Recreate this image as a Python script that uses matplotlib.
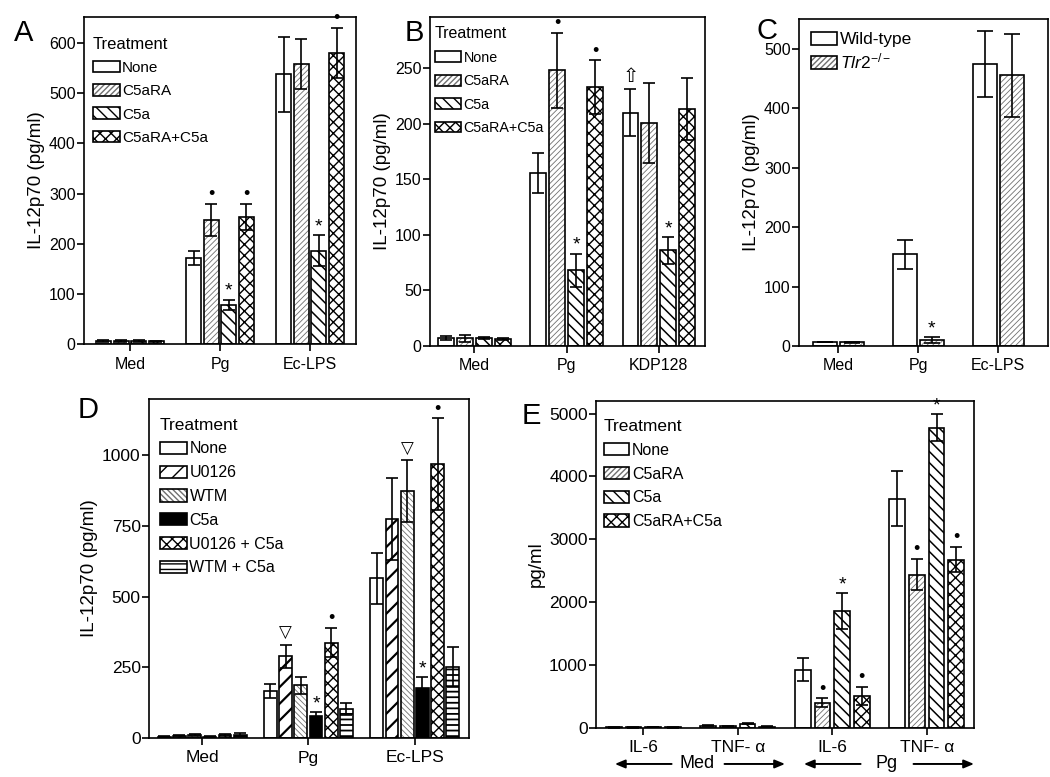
import numpy as np
import matplotlib
matplotlib.use('Agg')
import matplotlib.pyplot as plt
from matplotlib.patches import Patch
from matplotlib.legend_handler import HandlerTuple

plt.rcParams['font.family'] = ['Liberation Sans', 'DejaVu Sans']
plt.rcParams['mathtext.fontset'] = 'custom'
plt.rcParams['mathtext.rm'] = 'Liberation Sans'
plt.rcParams['mathtext.it'] = 'Liberation Sans:italic'

# ---------------- data ----------------
A_groups = ['Med', 'Pg', 'Ec-LPS']
A_labels = ['None', 'C5aRA', 'C5a', 'C5aRA+C5a']
A_none = [6, 171, 538]
A_none_err = [1.5, 14, 75]
A_c5ara = [6, 247, 558]
A_c5ara_err = [2, 32, 50]
A_c5a = [6, 78, 186]
A_c5a_err = [1.5, 10, 31]
A_both = [5, 254, 580]
A_both_err = [1.5, 26, 50]
A_marks = [(1, 1, 'dot'), (3, 1, 'dot'), (2, 1, 'star'), (2, 2, 'star'), (3, 2, 'dot')]

B_groups = ['Med', 'Pg', 'KDP128']
B_labels = ['None', 'C5aRA', 'C5a', 'C5aRA+C5a']
B_none = [7, 156, 210]
B_none_err = [2, 18, 21]
B_c5ara = [7, 248, 201]
B_c5ara_err = [3, 34, 36]
B_c5a = [7, 68, 86]
B_c5a_err = [1, 15, 12]
B_both = [6, 233, 213]
B_both_err = [1, 24, 28]
B_marks = [(1, 1, 'dot'), (3, 1, 'dot'), (2, 1, 'star'), (2, 2, 'star'), (0, 2, 'up')]

C_groups = ['Med', 'Pg', 'Ec-LPS']
C_labels = ['Wild-type', r'$\mathit{Tlr2}^{\mathrm{-/-}}$']
C_wt = [7, 154, 474]
C_wt_err = [0.5, 25, 56]
C_tlr2 = [6, 10, 455]
C_tlr2_err = [1.5, 4.5, 70]
C_marks = [(1, 1, 'star')]

D_groups = ['Med', 'Pg', 'Ec-LPS']
D_labels = ['None', 'U0126', 'WTM', 'C5a', 'U0126 + C5a', 'WTM + C5a']
D_none = [5, 165, 566]
D_none_err = [1, 25, 90]
D_u0126 = [8, 289, 775]
D_u0126_err = [2, 41, 145]
D_wtm = [10, 186, 873]
D_wtm_err = [3, 31, 110]
D_c5a = [5, 77, 177]
D_c5a_err = [1, 15, 39]
D_u0126_c5a = [10, 338, 970]
D_u0126_c5a_err = [3, 52, 162]
D_wtm_c5a = [12, 103, 251]
D_wtm_c5a_err = [5, 21, 70]
D_marks = [(1, 1, 'tri'), (2, 2, 'tri'), (4, 1, 'dot'), (4, 2, 'dot'), (3, 1, 'star'), (3, 2, 'star')]

E_groups = ['IL-6', 'TNF- α', 'IL-6', 'TNF- α']
E_labels = ['None', 'C5aRA', 'C5a', 'C5aRA+C5a']
E_none = [10, 35, 928, 3648]
E_none_err = [3, 8, 178, 440]
E_c5ara = [10, 30, 398, 2439]
E_c5ara_err = [3, 8, 72, 247]
E_c5a = [15, 65, 1861, 4777]
E_c5a_err = [3, 8, 284, 210]
E_both = [10, 20, 509, 2678]
E_both_err = [3, 5, 150, 204]
E_marks = [(1, 2, 'dot'), (3, 2, 'dot'), (2, 2, 'star'), (1, 3, 'dot'), (3, 3, 'dot'), (2, 3, 'star')]
E_cond = ['Med', 'Pg']

# ---------------- styles ----------------
STY = {
    'none':   ('white', None, 'black', 1.0),
    'fine_f': ('white', '//////', '#707070', 0.6),
    'diag_b': ('white', '\\\\\\', 'black', 1.1),
    'cross':  ('white', 'xxx', 'black', 1.0),
    'bold_f': ('white', '//', 'black', 1.6),
    'fine_b': ('white', '\\\\\\\\\\\\', '#707070', 0.6),
    'solid':  ('black', None, 'black', 1.0),
    'horiz':  ('white', '---', 'black', 1.3),
}

W, H = 1050, 777
fig = plt.figure(figsize=(W / 100, H / 100), dpi=100)


def px_axes(l, t, r, b):
    return fig.add_axes([l / W, 1 - b / H, (r - l) / W, (b - t) / H])


def draw_bars(ax, vals_list, errs_list, styles, slot, width, capsize):
    k = len(vals_list)
    handles, xs_all = [], []
    for i, (v, e, s) in enumerate(zip(vals_list, errs_list, styles)):
        x = np.arange(len(v)) + (i - (k - 1) / 2) * slot
        fc, hatch, hc, hlw = STY[s]
        with plt.rc_context({'hatch.linewidth': hlw}):
            b1 = ax.bar(x, v, width, color=fc, edgecolor=hc, linewidth=0,
                        hatch=hatch, zorder=2)
            h1 = Patch(facecolor=fc, edgecolor=hc, linewidth=0, hatch=hatch)
        for p in list(b1) + [h1]:
            if hasattr(p, 'set_hatch_linewidth'):
                p.set_hatch_linewidth(hlw)
        ax.bar(x, v, width, fill=False, edgecolor='black', linewidth=1.2, zorder=3)
        h2 = Patch(fill=False, edgecolor='black', linewidth=1.2)
        ax.errorbar(x, v, yerr=e, fmt='none', ecolor='black', elinewidth=1.2,
                    capsize=capsize, capthick=1.2, zorder=4)
        handles.append((h1, h2))
        xs_all.append(x)
    return handles, xs_all


def add_marks(ax, xs, vals, errs, marks):
    for si, gi, kind in marks:
        x = xs[si][gi]
        y = vals[si][gi] + errs[si][gi]
        if kind == 'dot':
            ax.annotate('•', (x, y), xytext=(0, 0.5), textcoords='offset points',
                        ha='center', va='bottom', fontsize=13, zorder=5)
        elif kind == 'star':
            ax.annotate('*', (x, y), xytext=(0, 0), textcoords='offset points',
                        ha='center', va='bottom', fontsize=14, zorder=5)
        elif kind == 'tri':
            ax.annotate('▽', (x, y), xytext=(0, 2), textcoords='offset points',
                        ha='center', va='bottom', fontsize=12,
                        family=['DejaVu Sans'], zorder=5)
        elif kind == 'up':
            ax.annotate('⇧', (x, y), xytext=(0, 2), textcoords='offset points',
                        ha='center', va='bottom', fontsize=14,
                        family=['DejaVu Sans'], zorder=5)


def style_axes(ax, groups, ylim, yticks, xlim, ytick_fs=11.5, xtick_fs=11.5):
    ax.set_xlim(*xlim)
    ax.set_ylim(*ylim)
    ax.set_yticks(yticks)
    ax.set_xticks(np.arange(len(groups)))
    ax.set_xticklabels(groups, fontsize=xtick_fs)
    ax.tick_params(axis='y', direction='out', length=5, width=1.2,
                   labelsize=ytick_fs, pad=1)
    ax.tick_params(axis='x', direction='out', length=5, width=1.2, pad=4)
    for sp in ax.spines.values():
        sp.set_linewidth(1.2)


def add_legend(ax, handles, labels, anchor, title='Treatment', fs=11,
               tfs=12, hl=1.75, hh=0.8, ls=0.6):
    leg = ax.legend(handles, labels, loc='upper left', bbox_to_anchor=anchor,
                    frameon=False, title=title, title_fontsize=tfs,
                    fontsize=fs, handlelength=hl, handleheight=hh,
                    labelspacing=ls, handletextpad=0.15, borderpad=0,
                    borderaxespad=0, alignment='left',
                    handler_map={tuple: HandlerTuple(ndivide=1)})
    leg.set_zorder(6)
    return leg


ylab = 'IL-12p70 (pg/ml)'

# ---------------- Panel A ----------------
axA = px_axes(84, 17, 356, 344)
valsA = [A_none, A_c5ara, A_c5a, A_both]
errsA = [A_none_err, A_c5ara_err, A_c5a_err, A_both_err]
hA, xA = draw_bars(axA, valsA, errsA, ['none', 'fine_f', 'diag_b', 'cross'],
                   0.196, 0.168, 4.5)
add_marks(axA, xA, valsA, errsA, A_marks)
style_axes(axA, A_groups, (0, 652), np.arange(0, 601, 100), (-0.51, 2.51))
axA.set_ylabel(ylab, fontsize=13.5, labelpad=3)
add_legend(axA, hA, A_labels, (0.033, 0.94))

# ---------------- Panel B ----------------
axB = px_axes(430, 17, 705, 346)
valsB = [B_none, B_c5ara, B_c5a, B_both]
errsB = [B_none_err, B_c5ara_err, B_c5a_err, B_both_err]
hB, xB = draw_bars(axB, valsB, errsB, ['none', 'fine_f', 'diag_b', 'cross'],
                   0.205, 0.172, 4.5)
add_marks(axB, xB, valsB, errsB, B_marks)
style_axes(axB, B_groups, (0, 296), np.arange(0, 251, 50), (-0.48, 2.5))
axB.set_ylabel(ylab, fontsize=13.5, labelpad=3)
add_legend(axB, hB, B_labels, (0.018, 0.972), fs=10.3, tfs=11.5, hl=1.85,
           ls=0.66)

# ---------------- Panel C ----------------
axC = px_axes(799, 19, 1048, 346)
valsC = [C_wt, C_tlr2]
errsC = [C_wt_err, C_tlr2_err]
hC, xC = draw_bars(axC, valsC, errsC, ['none', 'fine_f'], 0.34, 0.3, 6)
add_marks(axC, xC, valsC, errsC, C_marks)
style_axes(axC, C_groups, (0, 550), np.arange(0, 501, 100), (-0.49, 2.62))
axC.set_ylabel(ylab, fontsize=13.5, labelpad=3)
add_legend(axC, hC, C_labels, (0.048, 0.96), title=None, fs=12.5,
           hl=1.5, hh=0.75, ls=0.25)

# ---------------- Panel D ----------------
axD = px_axes(149, 399, 469, 738)
valsD = [D_none, D_u0126, D_wtm, D_c5a, D_u0126_c5a, D_wtm_c5a]
errsD = [D_none_err, D_u0126_err, D_wtm_err, D_c5a_err, D_u0126_c5a_err, D_wtm_c5a_err]
hD, xD = draw_bars(axD, valsD, errsD,
                   ['none', 'bold_f', 'fine_b', 'solid', 'cross', 'horiz'],
                   0.143, 0.12, 4.5)
add_marks(axD, xD, valsD, errsD, D_marks)
style_axes(axD, D_groups, (0, 1200), [0, 250, 500, 750, 1000], (-0.5, 2.51),
           ytick_fs=12.5, xtick_fs=12.5)
axD.set_ylabel(ylab, fontsize=13.5, labelpad=3)
add_legend(axD, hD, D_labels, (0.034, 0.945), fs=11.5, tfs=12.5, hl=1.7,
           hh=0.8, ls=0.55)

# ---------------- Panel E ----------------
axE = px_axes(596, 401, 974, 728)
valsE = [E_none, E_c5ara, E_c5a, E_both]
errsE = [E_none_err, E_c5ara_err, E_c5a_err, E_both_err]
hE, xE = draw_bars(axE, valsE, errsE, ['none', 'fine_f', 'diag_b', 'cross'],
                   0.208, 0.165, 4.5)
add_marks(axE, xE, valsE, errsE, E_marks)
style_axes(axE, E_groups, (0, 5200), np.arange(0, 5001, 1000), (-0.5, 3.5),
           ytick_fs=12.5, xtick_fs=12.5)
axE.set_ylabel('pg/ml', fontsize=13.5, labelpad=3)
add_legend(axE, hE, E_labels, (0.021, 0.945), fs=11.5, tfs=12.5, hl=1.6,
           hh=0.8, ls=0.55)

# condition arrows under panel E
arrow_kw = dict(arrowstyle='-|>,head_length=0.6,head_width=0.25', lw=1.4,
                color='black', shrinkA=0, shrinkB=0)
for ci, cname in enumerate(E_cond):
    c = 2 * ci + 0.5
    axE.text(c + 0.07, -0.11, cname, transform=axE.get_xaxis_transform(),
             ha='center', va='center', fontsize=13)
    axE.annotate('', xy=(c - 0.8, -0.11), xytext=(c - 0.2, -0.11),
                 xycoords=axE.get_xaxis_transform(),
                 textcoords=axE.get_xaxis_transform(),
                 arrowprops=arrow_kw, annotation_clip=False)
    axE.annotate('', xy=(c + 1.0, -0.11), xytext=(c + 0.36, -0.11),
                 xycoords=axE.get_xaxis_transform(),
                 textcoords=axE.get_xaxis_transform(),
                 arrowprops=arrow_kw, annotation_clip=False)

# panel letters
for letter, (px, py) in zip('ABCDE', [(24, 33), (414, 33), (767, 31), (88, 410), (531, 416)]):
    fig.text(px / W, 1 - py / H, letter, fontsize=21, ha='center', va='center')

fig.savefig('out.png', dpi=100)
